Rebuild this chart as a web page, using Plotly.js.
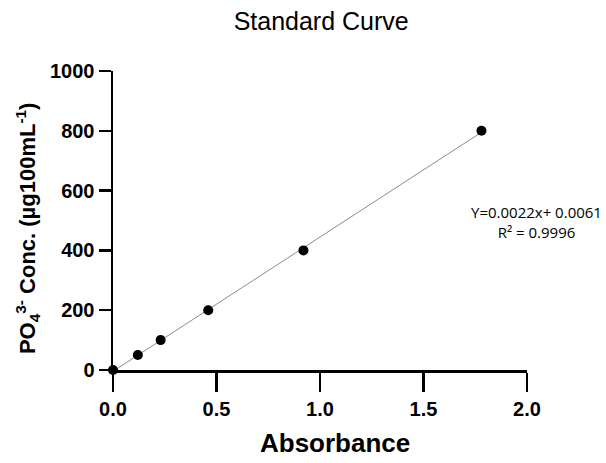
<!DOCTYPE html>
<html><head><meta charset="utf-8">
<script src="https://cdn.plot.ly/plotly-3.0.1.min.js"></script>
<style>body{margin:0;padding:0;background:#fff}#chart{width:606px;height:463px}</style>
</head><body><div id="chart"></div>
<script>
var absorbance = [0, 0.12, 0.23, 0.46, 0.92, 1.78];
var concentration = [0, 50, 100, 200, 400, 800];
var xTicks = [0, 0.5, 1.0, 1.5, 2.0];
var xTickLabels = ['0.0', '0.5', '1.0', '1.5', '2.0'];
var yTicks = [0, 200, 400, 600, 800, 1000];
var yTickLabels = ['0', '200', '400', '600', '800', '1000'];
var eqText = 'Y=0.0022x+ 0.0061<br>R² = 0.9996';

// least-squares fit of concentration on absorbance
var n = absorbance.length, sx = 0, sy = 0, sxx = 0, sxy = 0;
for (var i = 0; i < n; i++) { sx += absorbance[i]; sy += concentration[i]; sxx += absorbance[i]*absorbance[i]; sxy += absorbance[i]*concentration[i]; }
var slope = (n*sxy - sx*sy) / (n*sxx - sx*sx);
var intercept = (sy - slope*sx) / n;
var fitX = [absorbance[0], absorbance[n-1]];
var fitY = fitX.map(function(v){ return intercept + slope*v; });
function bold(a){ return a.map(function(s){ return '<b>' + s + '</b>'; }); }

var data = [
  {x: fitX, y: fitY, mode: 'lines', line: {color: '#8c8c8c', width: 1}, hoverinfo: 'skip', cliponaxis: false},
  {x: absorbance, y: concentration, mode: 'markers', marker: {color: '#000', size: 10}, cliponaxis: false}
];
var layout = {
  width: 606, height: 463,
  margin: {l: 113, r: 79, t: 71, b: 93},
  showlegend: false,
  paper_bgcolor: '#fff', plot_bgcolor: '#fff',
  font: {family: 'Liberation Sans, Arial, sans-serif', color: '#000'},
  title: {text: 'Standard Curve', x: 0.53, xanchor: 'center', y: 0.955, yanchor: 'middle', font: {size: 25, color: '#000'}},
  xaxis: {
    range: [0, 2], showgrid: false, zeroline: false, showline: true, linecolor: '#000', linewidth: 2.5,
    ticks: 'outside', ticklen: 19, tickwidth: 2.5, tickcolor: '#000',
    tickvals: xTicks, ticktext: bold(xTickLabels),
    tickfont: {size: 20, family: 'Liberation Sans, Arial, sans-serif'}
  },
  yaxis: {
    range: [0, 1000], showgrid: false, zeroline: false, showline: true, linecolor: '#000', linewidth: 2.5,
    ticks: 'outside', ticklen: 12, tickwidth: 2.5, tickcolor: '#000',
    tickvals: yTicks, ticktext: bold(yTickLabels),
    tickfont: {size: 20, family: 'Liberation Sans, Arial, sans-serif'}
  },
  annotations: [{
    xref: 'paper', yref: 'paper', x: 1.024, y: 0.495, xanchor: 'center', yanchor: 'middle',
    text: eqText, showarrow: false, align: 'center',
    font: {size: 15, family: 'Open Sans, Liberation Sans, sans-serif', color: '#000'}
  }, {
    xref: 'paper', yref: 'paper', x: 0.537, y: -0.245, xanchor: 'center', yanchor: 'middle',
    text: '<b>Absorbance</b>', showarrow: false, font: {size: 26}
  }, {
    xref: 'paper', yref: 'paper', x: -0.205, y: 0.475, xanchor: 'center', yanchor: 'middle', textangle: -90,
    text: '<b>PO<sub>4</sub><sup>3-</sup> Conc. (µg100mL<sup>-1</sup>)</b>', showarrow: false, font: {size: 22}
  }]
};
Plotly.newPlot('chart', data, layout, {displayModeBar: false, staticPlot: true});
</script></body></html>
